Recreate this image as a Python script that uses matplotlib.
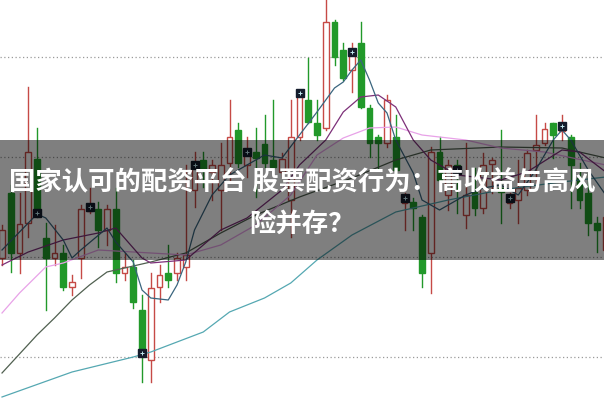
import matplotlib.pyplot as plt
from matplotlib.patches import Rectangle
import numpy as np

plt.rcParams['font.family'] = ['Noto Sans CJK SC', 'DejaVu Sans']

# candle data: open, close, high, low (one entry per bar)
opens = [9.99, 10.64, 10.04, 10.34, 10.98, 10.19, 9.99, 10.04, 9.70, 9.99,
         10.46, 10.48, 10.27, 10.48, 9.84, 9.90, 9.47, 8.97, 9.70, 9.84,
         9.84, 9.90, 10.67, 10.97, 10.85, 10.67, 10.94, 11.27, 10.92, 11.05,
         11.13, 10.97, 10.85, 10.57, 11.20, 11.57, 11.34, 11.29, 12.35, 12.07,
         11.87, 12.14, 11.49, 11.20, 11.14, 11.20, 10.54, 10.55, 10.40, 10.04,
         11.05, 10.62, 10.92, 10.42, 10.65, 10.49, 10.93, 10.69, 10.54, 10.57,
         10.67, 11.07, 11.14, 11.34, 11.26, 11.20, 10.79, 10.64, 10.34, 10.07]
closes = [10.27, 10.04, 10.33, 11.05, 10.44, 9.99, 10.04, 9.70, 9.75, 10.48,
          10.50, 10.27, 10.48, 9.84, 9.90, 9.55, 9.04, 9.69, 9.82, 9.77,
          9.99, 10.02, 10.92, 10.87, 10.92, 10.92, 11.20, 10.94, 11.05, 10.99,
          10.94, 10.90, 10.98, 11.20, 11.64, 11.35, 11.22, 12.35, 12.00, 11.79,
          12.05, 11.50, 11.14, 11.14, 11.57, 10.87, 10.59, 10.49, 9.84, 11.05,
          10.77, 10.92, 10.87, 10.62, 10.49, 10.92, 10.97, 10.65, 10.59, 10.69,
          11.04, 11.12, 11.28, 11.22, 11.31, 10.92, 10.57, 10.34, 10.27, 10.40]
highs = [10.32, 10.72, 10.64, 11.70, 11.29, 10.34, 10.32, 10.12, 9.82, 10.52,
         10.69, 10.55, 10.52, 10.69, 10.04, 9.97, 9.62, 9.84, 9.92, 10.12,
         10.04, 10.92, 11.05, 11.05, 10.97, 11.14, 11.57, 11.34, 11.20, 11.29,
         11.42, 11.57, 11.04, 11.57, 11.67, 11.99, 11.57, 12.62, 12.37, 12.14,
         12.14, 12.35, 11.52, 11.22, 11.62, 11.42, 10.64, 10.59, 10.42, 11.10,
         11.20, 10.97, 10.97, 11.14, 10.89, 11.04, 10.99, 11.27, 10.64, 10.97,
         11.07, 11.42, 11.34, 11.34, 11.42, 11.22, 10.94, 10.84, 10.40, 10.42]
lows = [9.92, 9.85, 9.84, 10.20, 10.40, 9.47, 9.92, 9.67, 9.62, 9.79,
        10.44, 10.10, 10.12, 9.75, 9.77, 9.49, 8.75, 8.75, 9.55, 9.70,
        9.77, 9.77, 10.50, 10.70, 10.57, 10.27, 10.77, 10.90, 10.80, 10.60,
        10.90, 10.89, 10.80, 10.20, 11.17, 11.34, 11.17, 11.27, 11.92, 11.77,
        11.65, 11.49, 11.00, 10.87, 11.10, 10.84, 10.27, 10.27, 9.70, 9.64,
        10.75, 10.47, 10.44, 10.29, 10.42, 10.44, 10.64, 10.34, 10.49, 10.34,
        10.62, 10.74, 11.12, 10.99, 11.17, 10.49, 10.49, 10.22, 10.05, 9.97]

# bars carrying the small square signal marker
marker_bars = [4, 10, 16, 22, 28, 34, 40, 46, 52, 58, 64]

# moving averages, read at a few bars each
ma5_idx = [0, 2, 4, 5, 7, 8, 9, 12, 13, 15, 16, 17, 19, 20, 21, 22, 24, 26, 28, 30,
           32, 34, 36, 38, 39, 40, 41, 42, 43, 44, 45, 47, 48, 50, 51, 53, 55, 57, 59,
           61, 63, 64, 65, 67, 69]
ma5_val = [10.07, 10.25, 10.43, 10.39, 10.17, 9.99, 10.07, 10.29, 10.15, 9.95, 9.67,
           9.59, 9.57, 9.72, 9.95, 10.27, 10.62, 10.82, 10.92, 11.02, 10.99, 11.22,
           11.45, 11.69, 11.75, 11.87, 11.97, 11.77, 11.54, 11.44, 11.17, 10.84, 10.57,
           10.47, 10.52, 10.62, 10.69, 10.72, 10.62, 10.87, 11.17, 11.27, 11.17, 10.87,
           10.62]
ma10_idx = [0, 3, 7, 11, 13, 16, 17, 21, 25, 28, 32, 34, 37, 39, 41, 43, 45, 47, 49,
            52, 57, 60, 64, 66, 69]
ma10_val = [9.92, 10.05, 10.17, 10.24, 10.29, 9.99, 9.94, 9.97, 10.27, 10.39, 10.67,
            10.92, 11.17, 11.45, 11.60, 11.62, 11.50, 11.17, 10.97, 10.82, 10.77, 10.85,
            11.07, 11.05, 10.85]
ma20_idx = [0, 2, 5, 7, 11, 17, 21, 25, 29, 33, 36, 39, 42, 45, 48, 53, 57, 62, 69]
ma20_val = [9.44, 9.64, 9.90, 9.94, 10.07, 10.04, 10.02, 10.12, 10.32, 10.62, 11.02,
            11.19, 11.29, 11.30, 11.22, 11.17, 11.09, 11.05, 10.92]
ma30_idx = [0, 4, 6, 8, 10, 12, 17, 21, 25, 29, 34, 40, 45, 49, 57, 64, 69]
ma30_val = [8.84, 9.22, 9.39, 9.57, 9.72, 9.85, 9.95, 10.04, 10.24, 10.42, 10.60, 10.79,
            10.97, 11.07, 11.10, 11.09, 10.99]
ma60_idx = [0, 8, 15, 17, 23, 26, 30, 33, 36, 40, 45, 51, 57, 63, 69]
ma60_val = [8.60, 8.85, 9.00, 9.05, 9.25, 9.45, 9.59, 9.74, 9.97, 10.22, 10.45, 10.57,
            10.67, 10.74, 10.80]

grid_levels = [9.0, 10.0, 11.0, 12.0]

title_lines = ["国家认可的配资平台 股票配资行为：高收益与高风", "险并存？"]

up_color = '#c64a46'
down_color = '#22992a'

fig = plt.figure(figsize=(6.04, 4.01), dpi=100)
ax = fig.add_axes([0, 0, 1, 1])
ax.set_xlim(-0.23, 68.8)
ax.set_ylim(8.56, 12.57)
ax.axis('off')

for g in grid_levels:
    ax.axhline(g, color='#9a9a9a', linewidth=0.9, linestyle=(0, (1, 2)), zorder=1)

# candles
w = 0.68
for i in range(len(opens)):
    o, c, h, l = opens[i], closes[i], highs[i], lows[i]
    up = c >= o
    col = up_color if up else down_color
    ax.plot([i, i], [l, h], color=col, linewidth=1.0, zorder=2)
    bottom = min(o, c)
    height = max(abs(c - o), 0.03)
    face = 'white' if up else col
    ax.add_patch(Rectangle((i - w / 2, bottom), w, height, facecolor=face,
                           edgecolor=col, linewidth=1.0, zorder=3))

# moving averages
ax.plot(ma60_idx, ma60_val, color='#55a8b2', linewidth=0.9, zorder=4)
ax.plot(ma30_idx, ma30_val, color='#506050', linewidth=0.9, zorder=4)
ax.plot(ma20_idx, ma20_val, color='#e8a2e8', linewidth=0.9, zorder=4)
ax.plot(ma10_idx, ma10_val, color='#7d3079', linewidth=0.9, zorder=4)
ax.plot(ma5_idx, ma5_val, color='#3a657e', linewidth=0.9, zorder=4)

# signal markers
mx = marker_bars
my = [closes[i] for i in marker_bars]
ax.plot(mx, my, linestyle='none', marker='s', markersize=5.5, color='#141c2c', zorder=5)
ax.plot(mx, my, linestyle='none', marker='+', markersize=3.5, markeredgewidth=0.7,
        color='#bfe6ee', zorder=6)

# grey banner with headline
fig.patches.append(Rectangle((0, (401 - 260) / 401), 1, 120 / 401, transform=fig.transFigure,
                             facecolor='black', alpha=0.5, edgecolor='none', zorder=10))
fig.text(0.5, 1 - 183 / 401, title_lines[0], color='white', fontsize=19, fontweight='bold',
         ha='center', va='center', zorder=11)
fig.text(0.5, 1 - 224 / 401, title_lines[1], color='white', fontsize=19, fontweight='bold',
         ha='center', va='center', zorder=11)

fig.savefig('out.png', dpi=100)
